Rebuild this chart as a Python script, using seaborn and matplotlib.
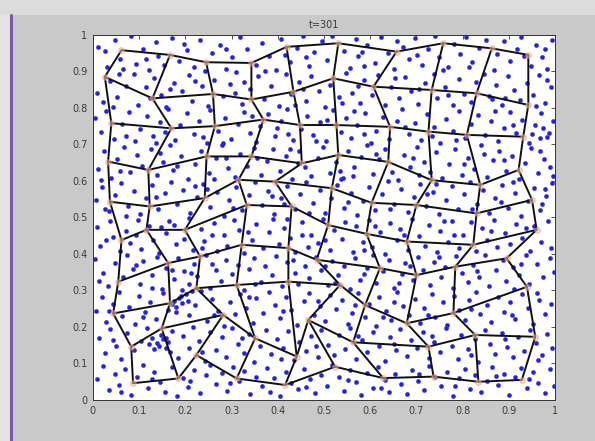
import numpy as np
import pandas as pd
import matplotlib
matplotlib.use('Agg')
import matplotlib.pyplot as plt
import seaborn as sns
from matplotlib.patches import Rectangle
from matplotlib.lines import Line2D

# ── Chart values ──────────────────────────────────────────────
TITLE = 't=301'
X_TICKS = [0, 0.1, 0.2, 0.3, 0.4, 0.5, 0.6, 0.7, 0.8, 0.9, 1]
Y_TICKS = [0, 0.1, 0.2, 0.3, 0.4, 0.5, 0.6, 0.7, 0.8, 0.9, 1]
X_TICK_LABELS = ['0', '0.1', '0.2', '0.3', '0.4', '0.5', '0.6', '0.7', '0.8', '0.9', '1']
Y_TICK_LABELS = X_TICK_LABELS

# SOM node positions, rows bottom -> top, columns left -> right
node_x = [
    [0.087, 0.185, 0.224, 0.311, 0.416, 0.524, 0.628, 0.737, 0.834, 0.928],
    [0.083, 0.149, 0.282, 0.351, 0.441, 0.466, 0.563, 0.726, 0.827, 0.957],
    [0.044, 0.167, 0.224, 0.311, 0.423, 0.535, 0.589, 0.679, 0.780, 0.939],
    [0.055, 0.163, 0.232, 0.322, 0.423, 0.484, 0.621, 0.700, 0.784, 0.895],
    [0.062, 0.116, 0.199, 0.333, 0.430, 0.509, 0.592, 0.679, 0.823, 0.960],
    [0.037, 0.123, 0.242, 0.315, 0.394, 0.517, 0.603, 0.700, 0.830, 0.950],
    [0.033, 0.120, 0.246, 0.343, 0.452, 0.531, 0.639, 0.733, 0.838, 0.921],
    [0.040, 0.170, 0.264, 0.369, 0.448, 0.527, 0.643, 0.726, 0.809, 0.931],
    [0.026, 0.129, 0.260, 0.343, 0.434, 0.520, 0.607, 0.733, 0.830, 0.942],
    [0.062, 0.167, 0.245, 0.343, 0.419, 0.531, 0.657, 0.758, 0.863, 0.942],
]
node_y = [
    [0.046, 0.059, 0.123, 0.059, 0.041, 0.091, 0.060, 0.064, 0.050, 0.055],
    [0.146, 0.196, 0.233, 0.169, 0.119, 0.219, 0.158, 0.146, 0.178, 0.173],
    [0.237, 0.265, 0.306, 0.315, 0.324, 0.315, 0.260, 0.210, 0.238, 0.310],
    [0.324, 0.375, 0.393, 0.425, 0.416, 0.384, 0.361, 0.342, 0.365, 0.388],
    [0.438, 0.466, 0.466, 0.534, 0.530, 0.479, 0.455, 0.434, 0.425, 0.466],
    [0.543, 0.530, 0.553, 0.603, 0.598, 0.580, 0.540, 0.534, 0.511, 0.548],
    [0.653, 0.630, 0.667, 0.667, 0.648, 0.671, 0.652, 0.602, 0.589, 0.630],
    [0.758, 0.744, 0.750, 0.768, 0.753, 0.753, 0.748, 0.735, 0.726, 0.721],
    [0.885, 0.826, 0.838, 0.823, 0.844, 0.881, 0.858, 0.849, 0.840, 0.808],
    [0.958, 0.945, 0.925, 0.923, 0.967, 0.977, 0.954, 0.977, 0.963, 0.945],
]

# input samples (blue dots), grouped by horizontal band
dots_90 = [(0.012,0.968),(0.031,0.912),(0.047,0.985),(0.058,0.934),(0.083,0.997),(0.094,0.921),(0.108,0.962),(0.121,0.904),(0.137,0.981),(0.142,0.943),(0.171,0.992),(0.186,0.927),(0.203,0.958),(0.219,0.911),(0.232,0.986),(0.257,0.949),(0.276,0.973),(0.288,0.906),(0.301,0.938),(0.318,0.995),(0.334,0.962),(0.352,0.917),(0.367,0.978),(0.381,0.941),(0.396,0.903),(0.408,0.989),(0.427,0.926),(0.442,0.964),(0.455,0.998),(0.468,0.915),(0.479,0.952),(0.496,0.983),(0.507,0.931),(0.518,0.996),(0.543,0.957),(0.556,0.909),(0.569,0.988),(0.574,0.942),(0.592,0.973),(0.611,0.922),(0.623,0.994),(0.638,0.951),(0.652,0.907),(0.671,0.968),(0.684,0.935),(0.697,0.991),(0.712,0.918),(0.726,0.961),(0.741,0.997),(0.748,0.938),(0.769,0.912),(0.782,0.976),(0.794,0.948),(0.808,0.993),(0.821,0.926),(0.836,0.964),(0.851,0.985),(0.867,0.903),(0.874,0.947),(0.889,0.982),(0.903,0.929),(0.918,0.962),(0.926,0.995),(0.947,0.914),(0.958,0.971),(0.971,0.938),(0.983,0.906),(0.994,0.987),(0.066,0.906),(0.155,0.917),(0.243,0.901),(0.415,0.945),(0.587,0.915),(0.659,0.982),(0.757,0.905),(0.933,0.941)]
dots_80 = [(0.009,0.842),(0.021,0.815),(0.038,0.873),(0.052,0.829),(0.071,0.861),(0.088,0.894),(0.097,0.808),(0.114,0.857),(0.133,0.882),(0.148,0.836),(0.159,0.803),(0.176,0.869),(0.192,0.847),(0.207,0.891),(0.214,0.818),(0.236,0.859),(0.249,0.806),(0.263,0.877),(0.281,0.832),(0.297,0.864),(0.309,0.898),(0.322,0.811),(0.341,0.852),(0.358,0.887),(0.371,0.824),(0.386,0.861),(0.402,0.805),(0.417,0.893),(0.429,0.838),(0.446,0.871),(0.461,0.819),(0.473,0.886),(0.489,0.847),(0.502,0.803),(0.514,0.862),(0.533,0.829),(0.547,0.896),(0.561,0.842),(0.578,0.814),(0.586,0.875),(0.603,0.834),(0.617,0.889),(0.631,0.808),(0.644,0.857),(0.662,0.826),(0.676,0.884),(0.688,0.845),(0.703,0.811),(0.719,0.869),(0.737,0.893),(0.744,0.827),(0.762,0.856),(0.778,0.807),(0.791,0.878),(0.803,0.839),(0.817,0.816),(0.829,0.871),(0.846,0.894),(0.858,0.833),(0.872,0.862),(0.884,0.809),(0.897,0.887),(0.911,0.848),(0.924,0.821),(0.939,0.869),(0.952,0.836),(0.966,0.891),(0.978,0.813),(0.991,0.858),(0.056,0.894),(0.124,0.827),(0.308,0.841),(0.437,0.808),(0.573,0.861),(0.706,0.851),(0.863,0.824),(0.958,0.806)]
dots_70 = [(0.004,0.771),(0.018,0.734),(0.029,0.792),(0.046,0.715),(0.063,0.756),(0.079,0.788),(0.091,0.708),(0.103,0.741),(0.118,0.779),(0.131,0.724),(0.146,0.761),(0.162,0.797),(0.178,0.712),(0.189,0.752),(0.204,0.786),(0.218,0.728),(0.229,0.765),(0.247,0.703),(0.253,0.794),(0.271,0.738),(0.286,0.772),(0.299,0.716),(0.314,0.757),(0.327,0.789),(0.339,0.731),(0.354,0.706),(0.361,0.749),(0.378,0.783),(0.393,0.722),(0.407,0.765),(0.419,0.798),(0.434,0.711),(0.451,0.742),(0.463,0.779),(0.476,0.726),(0.492,0.761),(0.505,0.709),(0.519,0.793),(0.536,0.735),(0.548,0.772),(0.559,0.718),(0.572,0.754),(0.589,0.787),(0.601,0.704),(0.613,0.738),(0.627,0.776),(0.641,0.715),(0.657,0.763),(0.668,0.796),(0.683,0.729),(0.696,0.759),(0.709,0.712),(0.722,0.784),(0.738,0.747),(0.751,0.703),(0.764,0.769),(0.779,0.736),(0.792,0.791),(0.806,0.718),(0.818,0.757),(0.833,0.781),(0.848,0.725),(0.861,0.764),(0.876,0.708),(0.889,0.746),(0.902,0.789),(0.916,0.731),(0.929,0.768),(0.944,0.704),(0.957,0.752),(0.969,0.785),(0.982,0.721),(0.996,0.763),(0.137,0.703),(0.281,0.705),(0.398,0.746),(0.507,0.768),(0.586,0.728),(0.734,0.722),(0.871,0.792),(0.951,0.728),(0.974,0.744)]
dots_60 = [(0.011,0.632),(0.024,0.681),(0.039,0.608),(0.053,0.659),(0.068,0.694),(0.081,0.623),(0.095,0.672),(0.107,0.641),(0.126,0.688),(0.139,0.615),(0.152,0.653),(0.167,0.697),(0.174,0.629),(0.191,0.668),(0.206,0.604),(0.221,0.645),(0.234,0.683),(0.251,0.621),(0.266,0.662),(0.279,0.698),(0.293,0.636),(0.307,0.611),(0.319,0.674),(0.334,0.642),(0.348,0.691),(0.363,0.617),(0.376,0.655),(0.389,0.687),(0.404,0.627),(0.418,0.669),(0.431,0.604),(0.447,0.681),(0.459,0.639),(0.472,0.614),(0.486,0.662),(0.498,0.694),(0.512,0.621),(0.527,0.651),(0.541,0.609),(0.553,0.683),(0.566,0.637),(0.579,0.666),(0.593,0.698),(0.606,0.618),(0.619,0.659),(0.633,0.687),(0.648,0.625),(0.661,0.602),(0.674,0.671),(0.687,0.638),(0.701,0.693),(0.716,0.651),(0.729,0.623),(0.742,0.679),(0.756,0.607),(0.771,0.645),(0.784,0.688),(0.798,0.616),(0.811,0.663),(0.824,0.633),(0.839,0.697),(0.852,0.612),(0.866,0.656),(0.879,0.683),(0.893,0.627),(0.907,0.668),(0.921,0.604),(0.935,0.649),(0.948,0.691),(0.962,0.622),(0.975,0.661),(0.989,0.639),(0.017,0.602),(0.145,0.677),(0.287,0.663),(0.443,0.648),(0.562,0.613),(0.693,0.662),(0.846,0.675),(0.968,0.683)]
dots_50 = [(0.006,0.548),(0.019,0.583),(0.034,0.517),(0.048,0.562),(0.061,0.594),(0.076,0.531),(0.089,0.571),(0.101,0.509),(0.114,0.552),(0.129,0.588),(0.141,0.523),(0.157,0.566),(0.169,0.598),(0.183,0.536),(0.196,0.574),(0.211,0.512),(0.226,0.557),(0.238,0.591),(0.254,0.528),(0.268,0.569),(0.283,0.504),(0.294,0.547),(0.309,0.582),(0.323,0.519),(0.337,0.561),(0.351,0.596),(0.366,0.533),(0.379,0.572),(0.392,0.508),(0.406,0.554),(0.421,0.587),(0.437,0.524),(0.449,0.565),(0.462,0.597),(0.477,0.539),(0.491,0.576),(0.503,0.513),(0.516,0.552),(0.529,0.589),(0.544,0.527),(0.558,0.568),(0.571,0.506),(0.584,0.546),(0.597,0.584),(0.611,0.521),(0.626,0.563),(0.639,0.599),(0.652,0.538),(0.667,0.577),(0.681,0.514),(0.694,0.556),(0.708,0.592),(0.721,0.531),(0.736,0.569),(0.749,0.508),(0.763,0.549),(0.777,0.586),(0.789,0.524),(0.803,0.563),(0.816,0.598),(0.831,0.537),(0.844,0.574),(0.857,0.511),(0.871,0.553),(0.886,0.589),(0.899,0.526),(0.913,0.567),(0.927,0.504),(0.941,0.545),(0.954,0.581),(0.967,0.519),(0.981,0.559),(0.993,0.593),(0.072,0.503),(0.247,0.578),(0.414,0.536),(0.536,0.604),(0.742,0.592),(0.882,0.543),(0.972,0.537)]
dots_40 = [(0.008,0.473),(0.015,0.421),(0.037,0.489),(0.044,0.446),(0.059,0.407),(0.072,0.462),(0.081,0.431),(0.098,0.494),(0.104,0.414),(0.122,0.477),(0.131,0.439),(0.143,0.402),(0.158,0.456),(0.164,0.491),(0.181,0.427),(0.197,0.441),(0.209,0.498),(0.216,0.412),(0.233,0.468),(0.241,0.435),(0.262,0.484),(0.268,0.408),(0.284,0.451),(0.291,0.422),(0.305,0.493),(0.317,0.466),(0.328,0.403),(0.344,0.437),(0.353,0.482),(0.368,0.415),(0.381,0.459),(0.389,0.497),(0.402,0.428),(0.413,0.471),(0.426,0.444),(0.438,0.405),(0.452,0.488),(0.466,0.419),(0.471,0.453),(0.487,0.431),(0.498,0.496),(0.514,0.411),(0.522,0.465),(0.539,0.442),(0.546,0.487),(0.563,0.405),(0.569,0.476),(0.584,0.433),(0.598,0.492),(0.604,0.418),(0.622,0.459),(0.631,0.401),(0.643,0.484),(0.657,0.437),(0.664,0.469),(0.682,0.412),(0.691,0.495),(0.706,0.448),(0.718,0.421),(0.727,0.479),(0.744,0.406),(0.752,0.463),(0.768,0.434),(0.776,0.491),(0.793,0.416),(0.801,0.452),(0.817,0.488),(0.829,0.408),(0.842,0.471),(0.853,0.439),(0.868,0.494),(0.874,0.418),(0.891,0.457),(0.903,0.426),(0.916,0.483),(0.928,0.443),(0.946,0.409),(0.955,0.476),(0.969,0.432),(0.984,0.491),(0.992,0.417),(0.147,0.474),(0.236,0.417),(0.452,0.452),(0.611,0.476),(0.781,0.451)]
dots_30 = [(0.004,0.386),(0.021,0.348),(0.033,0.312),(0.049,0.374),(0.066,0.337),(0.073,0.397),(0.087,0.359),(0.102,0.318),(0.109,0.381),(0.127,0.343),(0.138,0.392),(0.149,0.305),(0.158,0.362),(0.176,0.331),(0.184,0.388),(0.198,0.352),(0.207,0.317),(0.219,0.373),(0.226,0.339),(0.245,0.396),(0.253,0.308),(0.266,0.356),(0.278,0.327),(0.289,0.384),(0.302,0.346),(0.314,0.371),(0.327,0.302),(0.338,0.359),(0.349,0.388),(0.363,0.324),(0.372,0.366),(0.388,0.341),(0.396,0.395),(0.409,0.311),(0.421,0.378),(0.437,0.349),(0.444,0.319),(0.459,0.368),(0.468,0.334),(0.482,0.392),(0.493,0.357),(0.508,0.314),(0.517,0.381),(0.531,0.342),(0.544,0.368),(0.556,0.303),(0.567,0.389),(0.578,0.329),(0.593,0.361),(0.607,0.397),(0.613,0.321),(0.628,0.352),(0.641,0.384),(0.652,0.308),(0.668,0.345),(0.676,0.374),(0.692,0.329),(0.703,0.391),(0.715,0.356),(0.729,0.315),(0.737,0.379),(0.753,0.338),(0.761,0.363),(0.778,0.306),(0.786,0.393),(0.798,0.347),(0.812,0.322),(0.823,0.371),(0.836,0.336),(0.849,0.398),(0.858,0.311),(0.872,0.357),(0.887,0.383),(0.894,0.327),(0.909,0.364),(0.921,0.343),(0.937,0.396),(0.943,0.319),(0.961,0.372),(0.973,0.337),(0.988,0.389),(0.997,0.351),(0.127,0.308),(0.212,0.349),(0.523,0.321),(0.687,0.366),(0.912,0.303)]
dots_20 = [(0.007,0.243),(0.019,0.281),(0.028,0.214),(0.043,0.264),(0.057,0.297),(0.064,0.229),(0.078,0.256),(0.092,0.208),(0.099,0.284),(0.113,0.241),(0.124,0.269),(0.137,0.221),(0.151,0.292),(0.163,0.247),(0.172,0.262),(0.176,0.271),(0.181,0.255),(0.186,0.279),(0.193,0.266),(0.201,0.289),(0.209,0.233),(0.222,0.261),(0.234,0.298),(0.247,0.217),(0.258,0.276),(0.271,0.244),(0.283,0.203),(0.296,0.268),(0.308,0.236),(0.319,0.291),(0.332,0.252),(0.346,0.212),(0.354,0.279),(0.369,0.238),(0.381,0.296),(0.393,0.261),(0.404,0.224),(0.417,0.283),(0.429,0.247),(0.441,0.206),(0.456,0.271),(0.467,0.294),(0.478,0.232),(0.491,0.258),(0.503,0.216),(0.512,0.287),(0.527,0.249),(0.538,0.273),(0.552,0.209),(0.561,0.238),(0.574,0.292),(0.588,0.226),(0.597,0.264),(0.612,0.203),(0.619,0.281),(0.634,0.245),(0.646,0.218),(0.658,0.297),(0.671,0.257),(0.683,0.234),(0.696,0.276),(0.708,0.211),(0.717,0.253),(0.733,0.289),(0.741,0.227),(0.757,0.268),(0.766,0.204),(0.781,0.286),(0.792,0.246),(0.806,0.219),(0.814,0.273),(0.829,0.297),(0.838,0.235),(0.853,0.259),(0.862,0.213),(0.877,0.282),(0.889,0.241),(0.902,0.267),(0.914,0.222),(0.928,0.291),(0.941,0.251),(0.953,0.209),(0.966,0.274),(0.977,0.236),(0.991,0.262),(0.205,0.271),(0.628,0.228)]
dots_10 = [(0.013,0.171),(0.026,0.128),(0.038,0.194),(0.051,0.147),(0.062,0.112),(0.074,0.183),(0.089,0.136),(0.104,0.161),(0.117,0.197),(0.128,0.169),(0.139,0.157),(0.144,0.149),(0.151,0.166),(0.158,0.142),(0.163,0.158),(0.172,0.188),(0.168,0.131),(0.184,0.114),(0.196,0.176),(0.208,0.143),(0.217,0.199),(0.229,0.162),(0.243,0.107),(0.254,0.185),(0.266,0.138),(0.279,0.172),(0.287,0.119),(0.301,0.196),(0.313,0.154),(0.326,0.128),(0.338,0.181),(0.349,0.104),(0.361,0.148),(0.374,0.191),(0.386,0.126),(0.398,0.167),(0.411,0.142),(0.423,0.189),(0.436,0.109),(0.447,0.158),(0.461,0.133),(0.472,0.176),(0.486,0.118),(0.494,0.193),(0.509,0.151),(0.521,0.124),(0.533,0.179),(0.546,0.141),(0.557,0.198),(0.569,0.113),(0.582,0.163),(0.593,0.131),(0.607,0.186),(0.618,0.149),(0.631,0.106),(0.643,0.172),(0.656,0.137),(0.664,0.194),(0.679,0.121),(0.688,0.164),(0.702,0.143),(0.714,0.187),(0.727,0.116),(0.739,0.159),(0.752,0.132),(0.763,0.197),(0.776,0.147),(0.789,0.112),(0.797,0.178),(0.811,0.139),(0.826,0.166),(0.834,0.103),(0.848,0.191),(0.859,0.154),(0.871,0.127),(0.884,0.183),(0.896,0.146),(0.908,0.118),(0.919,0.172),(0.933,0.135),(0.946,0.193),(0.958,0.157),(0.971,0.124),(0.982,0.181),(0.994,0.142)]
dots_00 = [(0.009,0.058),(0.021,0.093),(0.034,0.027),(0.047,0.071),(0.056,0.042),(0.069,0.086),(0.083,0.014),(0.096,0.064),(0.108,0.097),(0.119,0.032),(0.133,0.078),(0.146,0.049),(0.157,0.021),(0.171,0.089),(0.183,0.012),(0.194,0.061),(0.206,0.036),(0.218,0.082),(0.231,0.018),(0.244,0.069),(0.253,0.097),(0.267,0.043),(0.279,0.074),(0.291,0.025),(0.303,0.091),(0.316,0.053),(0.328,0.079),(0.341,0.016),(0.353,0.064),(0.366,0.038),(0.377,0.087),(0.392,0.059),(0.404,0.011),(0.418,0.076),(0.429,0.047),(0.443,0.029),(0.456,0.084),(0.469,0.057),(0.481,0.019),(0.494,0.068),(0.506,0.039),(0.517,0.095),(0.532,0.062),(0.543,0.024),(0.557,0.081),(0.569,0.048),(0.581,0.013),(0.594,0.073),(0.606,0.034),(0.617,0.089),(0.632,0.056),(0.641,0.021),(0.654,0.071),(0.666,0.044),(0.679,0.017),(0.691,0.083),(0.703,0.051),(0.716,0.028),(0.728,0.094),(0.741,0.063),(0.753,0.037),(0.767,0.078),(0.779,0.012),(0.792,0.059),(0.804,0.086),(0.816,0.031),(0.827,0.068),(0.839,0.022),(0.852,0.053),(0.864,0.091),(0.877,0.041),(0.889,0.072),(0.901,0.015),(0.914,0.062),(0.926,0.088),(0.939,0.033),(0.952,0.076),(0.963,0.047),(0.977,0.019),(0.989,0.084)]
dots_fill = [(0.027,0.955),(0.115,0.935),(0.198,0.975),(0.289,0.962),(0.372,0.901),(0.461,0.938),(0.583,0.952),(0.702,0.944),(0.813,0.911),(0.978,0.962),(0.043,0.803),(0.166,0.851),(0.222,0.874),(0.326,0.871),(0.454,0.851),(0.538,0.812),(0.654,0.883),(0.769,0.834),(0.892,0.826),(0.982,0.877),(0.071,0.724),(0.156,0.733),(0.238,0.721),(0.344,0.778),(0.423,0.728),(0.482,0.708),(0.566,0.791),(0.675,0.748),(0.786,0.712),(0.909,0.754),(0.987,0.731),(0.967,0.718),(0.058,0.627),(0.183,0.642),(0.262,0.606),(0.355,0.663),(0.426,0.688),(0.534,0.628),(0.612,0.673),(0.706,0.615),(0.803,0.646),(0.889,0.658),(0.996,0.613),(0.026,0.523),(0.137,0.556),(0.221,0.587),(0.303,0.527),(0.388,0.559),(0.468,0.512),(0.552,0.541),(0.643,0.523),(0.723,0.563),(0.821,0.523),(0.908,0.597),(0.979,0.578),(0.029,0.437),(0.093,0.452),(0.176,0.478),(0.257,0.451),(0.336,0.461),(0.419,0.497),(0.503,0.438),(0.587,0.411),(0.673,0.451),(0.759,0.489),(0.861,0.462),(0.937,0.471),(0.014,0.326),(0.093,0.371),(0.171,0.357),(0.193,0.301),(0.258,0.373),(0.351,0.318),(0.432,0.383),(0.503,0.367),(0.586,0.346),(0.662,0.321),(0.748,0.391),(0.831,0.354),(0.926,0.372),(0.035,0.245),(0.108,0.226),(0.179,0.241),(0.191,0.285),(0.215,0.299),(0.263,0.232),(0.338,0.281),(0.411,0.245),(0.486,0.271),(0.567,0.261),(0.652,0.267),(0.724,0.232),(0.818,0.249),(0.907,0.232),(0.961,0.292),(0.044,0.163),(0.132,0.141),(0.147,0.177),(0.159,0.171),(0.122,0.152),(0.236,0.131),(0.322,0.169),(0.407,0.113),(0.483,0.147),(0.573,0.175),(0.651,0.154),(0.733,0.176),(0.819,0.122),(0.891,0.167),(0.964,0.109),(0.061,0.023),(0.127,0.057),(0.211,0.053),(0.296,0.047),(0.384,0.021),(0.462,0.036),(0.551,0.056),(0.624,0.032),(0.706,0.072),(0.784,0.038),(0.873,0.066),(0.944,0.057),(0.997,0.039)]

# ── Styling ───────────────────────────────────────────────────
FIG_BG   = '#c9c9c9'
DOT_CLR  = '#2323e0'
NODE_CLR = '#e0876a'
TEXT_CLR = '#3a3a3a'

sns.set_theme(style='white')
plt.rcParams['font.family'] = ['DejaVu Sans']

dots = pd.DataFrame(dots_90 + dots_80 + dots_70 + dots_60 + dots_50 +
                    dots_40 + dots_30 + dots_20 + dots_10 + dots_00 + dots_fill,
                    columns=['x', 'y'])

# long table of grid lines: every row and every column of the map
segs = []
for j in range(10):
    for i in range(10):
        segs.append({'line': f'r{j}', 'order': i, 'x': node_x[j][i], 'y': node_y[j][i]})
for i in range(10):
    for j in range(10):
        segs.append({'line': f'c{i}', 'order': j, 'x': node_x[j][i], 'y': node_y[j][i]})
grid = pd.DataFrame(segs)
nodes = grid[grid['line'].str.startswith('r')]

fig = plt.figure(figsize=(5.95, 4.41), dpi=100)
fig.patch.set_facecolor(FIG_BG)

# pale window edges + purple frame line on the left
fig.add_artist(Rectangle((0, 0), 0.018, 1, transform=fig.transFigure,
                         facecolor='#e4e2e6', edgecolor='none', zorder=0))
fig.add_artist(Rectangle((0, 0.965), 1, 0.035, transform=fig.transFigure,
                         facecolor='#dcdcdc', edgecolor='none', zorder=0))
fig.add_artist(Line2D([0.019, 0.019], [0, 0.965], transform=fig.transFigure,
                      color='#7a5aa8', linewidth=2.2))

ax = fig.add_axes([0.156, 0.093, 0.777, 0.828])
ax.set_facecolor('white')

sns.scatterplot(data=dots, x='x', y='y', ax=ax, s=9, color=DOT_CLR,
                edgecolor=DOT_CLR, linewidth=0.3, zorder=2)
sns.lineplot(data=grid, x='x', y='y', units='line', estimator=None, sort=False,
             ax=ax, color='#101010', linewidth=1.4, zorder=3)
sns.scatterplot(data=nodes, x='x', y='y', ax=ax, s=16, facecolor='#f3c2a8',
                edgecolor=NODE_CLR, linewidth=0.7, alpha=0.55, zorder=4)

ax.set_xlim(0, 1)
ax.set_ylim(0, 1)
ax.set_xticks(X_TICKS)
ax.set_yticks(Y_TICKS)
ax.set_xticklabels(X_TICK_LABELS)
ax.set_yticklabels(Y_TICK_LABELS)
ax.set_xlabel('')
ax.set_ylabel('')
ax.tick_params(direction='in', length=3, width=0.6, colors=TEXT_CLR,
               labelsize=7, top=True, right=True, pad=4)
for spine in ax.spines.values():
    spine.set_edgecolor('#333333')
    spine.set_linewidth(0.7)

ax.set_title(TITLE, fontsize=7, color=TEXT_CLR, pad=5)

plt.savefig('out.png', dpi=100, facecolor=FIG_BG)
plt.close()
